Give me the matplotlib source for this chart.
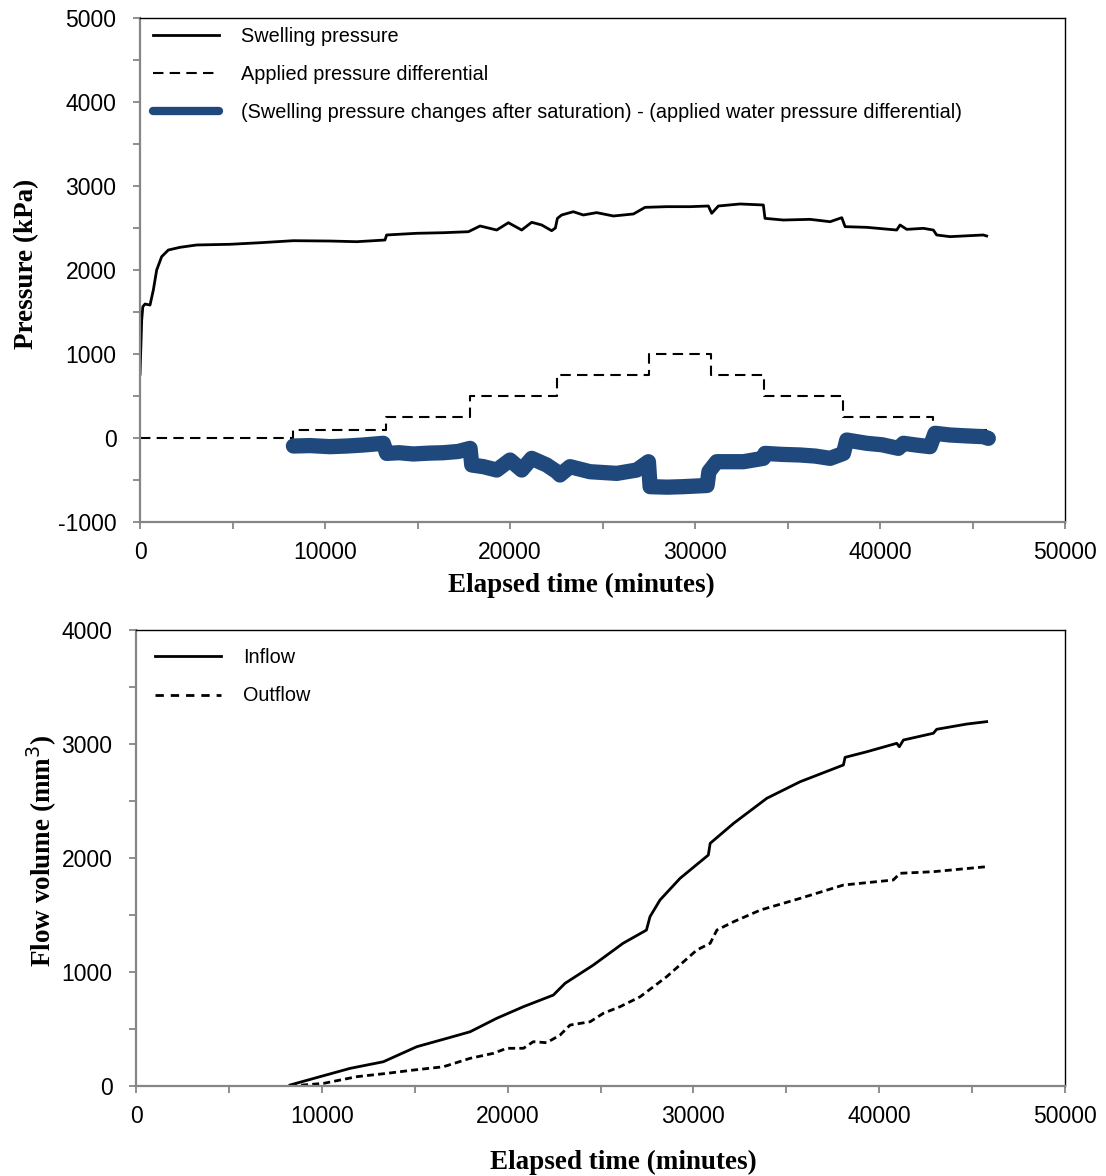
import numpy as np
import matplotlib
matplotlib.use('Agg')
import matplotlib.pyplot as plt
from matplotlib.ticker import MultipleLocator

plt.rcParams['font.family'] = ['Liberation Sans', 'DejaVu Sans']
plt.rcParams['axes.unicode_minus'] = False

# --- top panel: pressures (kPa) vs elapsed time (min)
t_sw = [0, 90, 150, 270, 540, 720, 900, 1170, 1530, 2160, 3060, 4860, 6500, 8290,
        10270, 11710, 13240, 13330, 14950, 16400, 17750, 18380, 19280, 19910, 20630,
        21170, 21710, 22250, 22450, 22560, 22790, 23420, 23960, 24680, 25590, 26670,
        27300, 28470, 29730, 30720, 30900, 31260, 32430, 33690, 33780, 34770, 36220,
        37300, 37930, 38110, 39280, 40900, 41080, 41440, 42340, 42880, 43060, 43780,
        45580, 45760]
p_sw = [760, 1400, 1563, 1595, 1583, 1762, 2000, 2159, 2238, 2270, 2298, 2306, 2325, 2349,
        2345, 2337, 2357, 2417, 2437, 2444, 2456, 2524, 2476, 2563, 2476,
        2568, 2536, 2468, 2500, 2615, 2655, 2694, 2655, 2683, 2643, 2667,
        2746, 2754, 2754, 2762, 2675, 2762, 2786, 2774, 2615, 2595, 2603,
        2575, 2623, 2516, 2508, 2476, 2536, 2484, 2496, 2476, 2417, 2397,
        2417, 2405]

t_ap = [0, 8290, 13300, 17840, 22560, 27530, 30850, 33730, 38020, 42880, 45760]
p_ap = [0, 100, 250, 500, 750, 1000, 750, 500, 250, 100, 100]

t_df = [8290, 9200, 10270, 11200, 12070, 13150, 13330, 14000, 14770, 15600, 16400, 17200,
        17840, 17930, 18560, 19280, 20000, 20630, 21170, 21980, 22520, 22700, 23240, 24320,
        25770, 26850, 27480, 27570, 28500, 29370, 30650, 30750, 31170, 32610, 33690, 33780,
        34700, 35680, 36500, 37300, 38020, 38200, 39280, 40100, 40990, 41260, 42000, 42700,
        42970, 43780, 44700, 45580, 45850]
p_df = [-95, -90, -103, -95, -83, -63, -183, -175, -190, -180, -175, -160,
        -123, -321, -341, -381, -262, -381, -242, -321, -401, -440, -341, -401,
        -421, -381, -282, -579, -585, -579, -565, -400, -282, -282, -242, -183,
        -195, -202, -215, -242, -183, -24, -63, -80, -123, -63, -85, -103,
        56, 36, 25, 16, -4]

# --- bottom panel: flow volume (mm3)
t_in = [8290, 9900, 11520, 13310, 15110, 16720, 17980, 19410, 20850, 22460, 23090, 24610,
        26210, 27470, 27660, 28200, 29280, 30800, 30900, 32160, 33950, 35740, 38070, 38160,
        39330, 40940, 41080, 41300, 42910, 43090, 44710, 45780]
v_in = [9, 82, 155, 213, 345, 418, 476, 594, 696, 798, 901, 1061,
        1252, 1368, 1485, 1632, 1822, 2026, 2129, 2304, 2524, 2669, 2816, 2883,
        2932, 3006, 2976, 3035, 3094, 3129, 3175, 3196]

t_out = [8290, 10080, 11880, 13490, 14920, 16540, 17980, 19230, 19950, 20850, 21380, 22100,
         22820, 23360, 24440, 25150, 26050, 27130, 28560, 30180, 30900, 31260, 32160, 33610,
         35740, 38070, 40750, 41120, 42910, 45780]
v_out = [0, 23, 82, 111, 140, 169, 243, 287, 331, 331, 389, 380,
         447, 535, 564, 638, 696, 783, 959, 1193, 1252, 1368, 1441, 1544,
         1646, 1763, 1807, 1866, 1880, 1924]

blue = '#1F497D'
grey = '#868686'
lab_font = dict(family='Liberation Serif', weight='bold', size=19.5)


def style_axes(ax, ymaj, ymin):
    ax.spines['left'].set_color(grey)
    ax.spines['bottom'].set_color(grey)
    ax.spines['left'].set_linewidth(1.6)
    ax.spines['bottom'].set_linewidth(1.6)
    ax.spines['top'].set_linewidth(1.0)
    ax.spines['right'].set_linewidth(1.0)
    ax.xaxis.set_major_locator(MultipleLocator(10000))
    ax.xaxis.set_minor_locator(MultipleLocator(5000))
    ax.yaxis.set_major_locator(MultipleLocator(ymaj))
    ax.yaxis.set_minor_locator(MultipleLocator(ymin))
    ax.tick_params(which='both', direction='out', color=grey, width=1.3, top=False, right=False)
    ax.tick_params(axis='y', which='both', length=5, pad=12, labelsize=16.5)
    ax.tick_params(axis='x', which='both', length=5, pad=9, labelsize=16.5)


def place_labels(ax, xl, yl):
    ax.xaxis.set_label_coords(*xl)
    ax.yaxis.set_label_coords(*yl)
    ax.xaxis.label.set_verticalalignment('center')
    ax.yaxis.label.set_verticalalignment('center')


fig = plt.figure(figsize=(11.06, 11.76), dpi=100)

ax1 = fig.add_axes([0.1266, 0.5561, 0.8364, 0.4286])
ax1.plot(t_sw, p_sw, '-', color='black', lw=2.0, label='Swelling pressure')
ax1.plot(t_ap, p_ap, color='black', lw=1.5, ls=(0, (5, 3)), drawstyle='steps-post',
         label='Applied pressure differential')
ax1.plot(t_df, p_df, '-', color=blue, lw=11, solid_capstyle='round', solid_joinstyle='round',
         label='(Swelling pressure changes after saturation) - (applied water pressure differential)')
ax1.set_xlim(0, 50000)
ax1.set_ylim(-1000, 5000)
style_axes(ax1, 1000, 500)
ax1.set_xlabel('Elapsed time (minutes)', **lab_font)
ax1.set_ylabel('Pressure (kPa)', **lab_font)
place_labels(ax1, (0.477, -0.125), (-0.123, 0.512))
leg1 = ax1.legend(loc='upper left', bbox_to_anchor=(0.014, 0.982), frameon=False, fontsize=14.3,
                  handlelength=3.3, handletextpad=1.15, labelspacing=0.95,
                  borderaxespad=0, borderpad=0)
leg1.legend_handles[2].set_linewidth(6)

ax2 = fig.add_axes([0.123, 0.0765, 0.840, 0.3878])
ax2.plot(t_in, v_in, '-', color='black', lw=2.0, label='Inflow')
ax2.plot(t_out, v_out, color='black', lw=2.0, ls=(0, (2.5, 1.5)), label='Outflow')
ax2.set_xlim(0, 50000)
ax2.set_ylim(0, 4000)
style_axes(ax2, 1000, 500)
ax2.set_xlabel('Elapsed time (minutes)', **lab_font)
ax2.set_ylabel('Flow volume (mm$^3$)', **lab_font)
place_labels(ax2, (0.525, -0.167), (-0.101, 0.515))
leg2 = ax2.legend(loc='upper left', bbox_to_anchor=(0.0205, 0.960), frameon=False, fontsize=14.3,
                  handlelength=3.3, handletextpad=1.15, labelspacing=0.97,
                  borderaxespad=0, borderpad=0)
leg2.legend_handles[1].set_linestyle((0, (3, 2.5)))

fig.savefig('out.png', dpi=100)
